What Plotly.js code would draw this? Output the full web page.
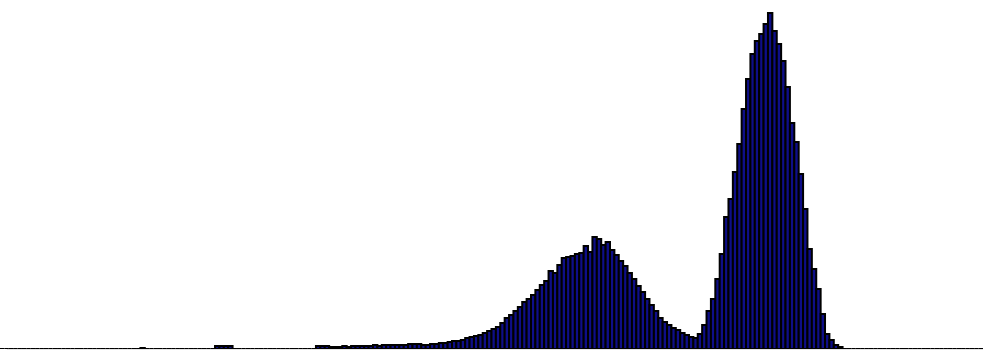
<!DOCTYPE html>
<html>
<head>
<meta charset="utf-8">
<script src="https://cdn.plot.ly/plotly-3.0.1.min.js"></script>
<style>html,body{margin:0;padding:0;background:#fff;}#chart{width:983px;height:354px;}</style>
</head>
<body>
<div id="chart"></div>
<script>
// Histogram bin counts (bin index 0..223)
const binCounts = [
  0,0,0,0,0,0,0,0,0,0, 0,0,0,0,0,0,0,0,0,0,
  0,0,0,0,0,0,0,0,0,0, 0,0,1,0,0,0,0,0,0,0,
  0,0,0,0,0,0,0,0,0,3, 3,3,3,0,0,0,0,0,0,0,
  0,0,0,0,0,0,0,0,0,0, 0,0,3,3,3,2,2,2,3,2,
  3,3,3,3,3,4,3,4,4,4, 4,4,4,5,5,5,4,4,5,5,
  6,6,7,8,8,9,11,12,13,14, 16,18,20,22,26,31,34,38,42,47,
  50,54,59,64,68,78,76,84,91,92, 93,95,96,103,97,112,110,104,107,99,
  94,88,83,76,70,63,57,50,44,38, 31,27,24,21,19,16,14,12,11,15,
  24,38,50,70,95,132,150,177,205,240, 270,295,308,315,325,336,318,305,288,262,
  226,207,175,140,100,80,60,35,15,9, 4,2,0,0,0,0,0,0,0,0,
  0,0,0,0,0,0,0,0,0,0, 0,0,0,0,0,0,0,0,0,0,
  0,0,0,0
];
const binIndex = binCounts.map((_, i) => i);

const trace = {
  type: 'bar',
  x: binIndex,
  y: binCounts,
  marker: { color: '#0e0e88', line: { color: '#000000', width: 2 } },
  hoverinfo: 'none'
};

const layout = {
  width: 983, height: 354,
  margin: { l: 0, r: 0, t: 0, b: 5, pad: 0 },
  paper_bgcolor: '#ffffff', plot_bgcolor: '#ffffff',
  bargap: 0,
  showlegend: false,
  xaxis: { range: [-0.5, binCounts.length - 0.5], visible: false, fixedrange: true },
  yaxis: { range: [0, 349], visible: false, fixedrange: true },
  shapes: [
    { type: 'line', xref: 'paper', yref: 'paper', x0: 0.007, x1: 1, y0: 0, y1: 0,
      line: { color: '#dcdcdc', width: 1.5 }, layer: 'below' }
  ]
};

Plotly.newPlot('chart', [trace], layout, { staticPlot: true, displayModeBar: false });
</script>
</body>
</html>
